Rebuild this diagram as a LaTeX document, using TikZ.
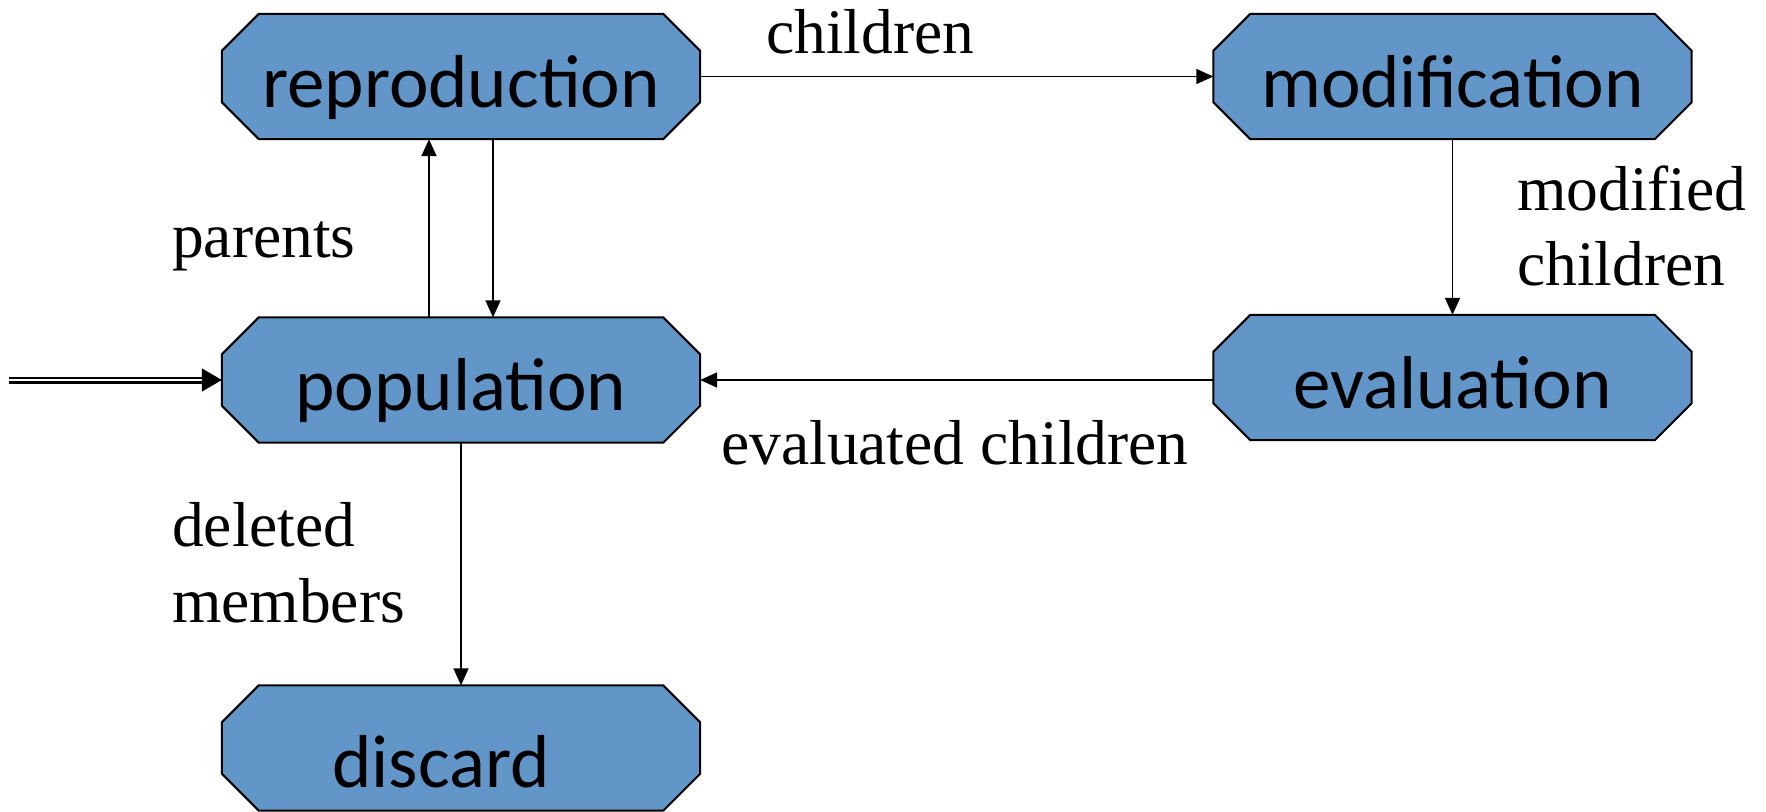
\documentclass[tikz,border=0pt]{standalone}
\usepackage{fontspec}
\setmainfont{Liberation Serif}
\newfontfamily\boxfont{Carlito}
\usetikzlibrary{arrows.meta,backgrounds}
\definecolor{boxblue}{RGB}{98,149,200}
\tikzset{
  boxnode/.style={minimum width=478pt, minimum height=125pt, inner sep=0pt,
    font=\boxfont\fontsize{75}{82}\selectfont, text height=61pt, text depth=0pt},
  boxline/.style={fill=boxblue, draw=black, line width=2pt, line join=miter},
  arr/.style={line width=1.7pt, -{Triangle[length=17pt,width=15pt]}},
  bigarr/.style={line width=1.7pt, -{Triangle[length=20pt,width=23pt]}},
  dbl/.style={double=white, double distance=2.2pt, line width=2.4pt},
  lbl/.style={anchor=base west, inner sep=0pt, font=\fontsize{63.5}{73}\selectfont}
}
\newcommand\octobox[1]{%
  \filldraw[boxline] ([xshift=37pt]#1.north west) -- ([xshift=-37pt]#1.north east)
    -- ([yshift=-37pt]#1.north east) -- ([yshift=37pt]#1.south east)
    -- ([xshift=-37pt]#1.south east) -- ([xshift=37pt]#1.south west)
    -- ([yshift=37pt]#1.south west) -- ([yshift=-37pt]#1.north west) -- cycle;}
\begin{document}
\begin{tikzpicture}[x=1pt, y=-1pt]
\useasboundingbox (0,0) rectangle (1766,811);
\node[boxnode] (rep) at (461,76.5) {reproduction};
\node[boxnode] (mod) at (1452.5,76.5) {modification};
\node[boxnode] (pop) at (461,380) {population};
\node[boxnode] (eval) at (1452.5,377.5) {evaluation};
\node[boxnode, text height=79pt] (disc) at (461,748) {discard\kern40pt\relax};
\begin{scope}[on background layer]
  \octobox{rep}\octobox{mod}\octobox{pop}\octobox{eval}\octobox{disc}
\end{scope}
\coordinate (in) at (9,380);
\draw[arr] (rep.east) -- (mod.west);
\draw[arr] ([xshift=-32pt]pop.north) -- ([xshift=-32pt]rep.south);
\draw[arr] ([xshift=32pt]rep.south) -- ([xshift=32pt]pop.north);
\draw[arr] (mod.south) -- (eval.north);
\draw[arr] (eval.west |- pop.east) -- (pop.east);
\draw[arr] (pop.south) -- (disc.north);
\draw[dbl] (in) -- ([xshift=-18pt]pop.west);
\draw[bigarr] ([xshift=-20pt]pop.west) -- (pop.west);
\node[lbl] (lchildren) at (766,53) {children};
\node[lbl] (lmod1) at (1517,210) {modified};
\node[lbl] (lmod2) at (1517,285) {children};
\node[lbl] (lpar) at (172,257) {parents};
\node[lbl] (leval) at (721,464) {evaluated children};
\node[lbl] (ldel1) at (172,546) {deleted};
\node[lbl] (ldel2) at (172,622) {members};
\end{tikzpicture}
\end{document}
